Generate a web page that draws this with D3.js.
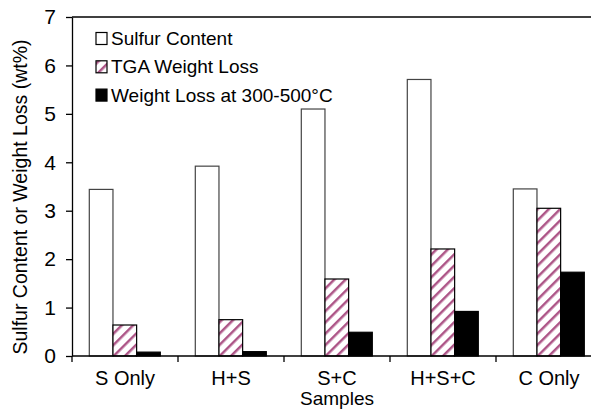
<!DOCTYPE html>
<html>
<head>
<meta charset="utf-8">
<script src="https://cdn.jsdelivr.net/npm/d3@7"></script>
<style>
  body { margin: 0; background: #fff; }
  text { font-family: "Liberation Sans", Arial, sans-serif; fill: #000; }
</style>
</head>
<body>
<div id="draw"></div>
<script>
// data
let samples = ['S Only', 'H+S', 'S+C', 'H+S+C', 'C Only'];
let seriesNames = ['Sulfur Content', 'TGA Weight Loss', 'Weight Loss at 300-500\u00B0C'];
let sulfur = [3.44, 3.92, 5.10, 5.71, 3.45];
let tgaLoss = [0.64, 0.75, 1.59, 2.21, 3.05];
let loss300 = [0.08, 0.09, 0.49, 0.92, 1.73];
let yTicks = [0, 1, 2, 3, 4, 5, 6, 7];

let series = [sulfur, tgaLoss, loss300];

// parameters
let width = 591, height = 410;
let margin = { top: 17, left: 72, bottom: 56, right: 0 };
let band = 106;
let fs = 19;

let svg = d3.select('#draw').append('svg').attr('width', width).attr('height', height);

let defs = svg.append('defs');
let pat = defs.append('pattern')
    .attr('id', 'hatch')
    .attr('patternUnits', 'userSpaceOnUse')
    .attr('width', 8)
    .attr('height', 8)
    .attr('patternTransform', 'rotate(45)');
pat.append('rect').attr('width', 8).attr('height', 8).attr('fill', '#fff');
pat.append('line')
    .attr('x1', 0).attr('y1', 0).attr('x2', 0).attr('y2', 8)
    .attr('stroke', '#ad5587').attr('stroke-width', 5);

let fills = ['#fff', 'url(#hatch)', '#000'];

let x0 = d3.scaleBand()
    .domain(samples)
    .range([margin.left, margin.left + band * samples.length]);
let x1 = d3.scaleBand()
    .domain(d3.range(series.length))
    .range([17.3, 17.3 + 71]);
let y = d3.scaleLinear()
    .domain([0, 7])
    .range([height - margin.bottom + 2, margin.top]);

// top border
svg.append('line')
    .attr('x1', margin.left).attr('x2', width)
    .attr('y1', y(7)).attr('y2', y(7))
    .attr('stroke', '#000').attr('stroke-width', 1.5);

// bars
let groups = svg.append('g')
    .selectAll('g')
    .data(samples)
    .enter()
    .append('g')
    .attr('transform', d => 'translate(' + x0(d) + ',0)');

groups.selectAll('rect')
    .data((d, i) => series.map((s, k) => ({ k: k, v: s[i] })))
    .enter()
    .append('rect')
    .attr('x', d => x1(d.k))
    .attr('y', d => y(d.v))
    .attr('width', x1.bandwidth())
    .attr('height', d => y(0) - y(d.v))
    .attr('fill', d => fills[d.k])
    .attr('stroke', d => d.k == 0 ? '#444' : '#000')
    .attr('stroke-width', 1.2);

// y axis
let yAxis = svg.append('g')
    .attr('transform', 'translate(' + margin.left + ',0)')
    .call(d3.axisLeft(y).tickValues(yTicks).tickFormat(d3.format('d')).tickSize(6).tickPadding(10).tickSizeOuter(0));
yAxis.selectAll('text').style('font-size', '21px').attr('font-family', null);
yAxis.selectAll('line,path').attr('stroke', '#000').attr('stroke-width', 1.3);

// x axis line and ticks at band boundaries
let xg = svg.append('g');
xg.append('line')
    .attr('x1', margin.left).attr('x2', width)
    .attr('y1', y(0)).attr('y2', y(0))
    .attr('stroke', '#000').attr('stroke-width', 1.3);
xg.selectAll('.tk')
    .data(samples)
    .enter()
    .append('line')
    .attr('x1', d => x0(d)).attr('x2', d => x0(d))
    .attr('y1', y(0)).attr('y2', y(0) + 6)
    .attr('stroke', '#000').attr('stroke-width', 1.3);
xg.selectAll('.lab')
    .data(samples)
    .enter()
    .append('text')
    .attr('x', d => x0(d) + x0.bandwidth() / 2)
    .attr('y', y(0) + 29)
    .attr('text-anchor', 'middle')
    .style('font-size', '20px')
    .text(d => d);

// axis titles
svg.append('text')
    .attr('x', (margin.left + margin.left + band * 5) / 2)
    .attr('y', 405)
    .attr('text-anchor', 'middle')
    .style('font-size', fs + 'px')
    .text('Samples');

svg.append('text')
    .attr('transform', 'translate(27,197) rotate(-90)')
    .attr('text-anchor', 'middle')
    .style('font-size', '19.5px')
    .text('Sulfur Content or Weight Loss (wt%)');

// legend
let legend = svg.append('g')
    .selectAll('g')
    .data(seriesNames)
    .enter()
    .append('g')
    .attr('transform', (d, i) => 'translate(96,' + (45 + i * 28.3) + ')');
legend.append('rect')
    .attr('x', 0).attr('y', -12.5)
    .attr('width', 11).attr('height', 12)
    .attr('fill', (d, i) => fills[i])
    .attr('stroke', '#000').attr('stroke-width', 1.2);
legend.append('text')
    .attr('x', 15)
    .attr('y', 0)
    .style('font-size', fs + 'px')
    .text(d => d);
</script>
</body>
</html>
